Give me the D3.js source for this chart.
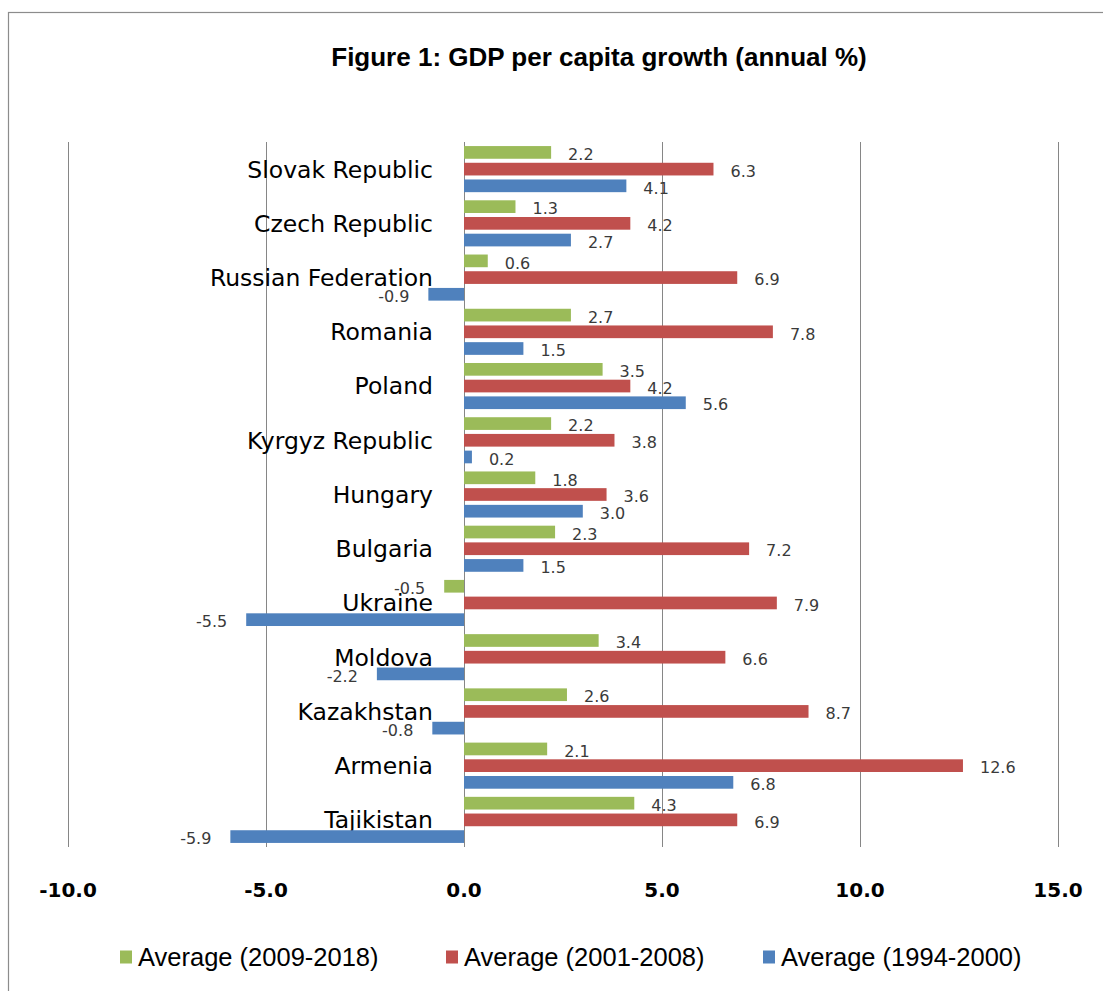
<!DOCTYPE html>
<html>
<head>
<meta charset="utf-8">
<script src="https://cdn.jsdelivr.net/npm/d3@7"></script>
<style>
  html, body { margin: 0; padding: 0; background: #fff; }
  svg { display: block; }
</style>
</head>
<body>
<svg id="chart" width="1103" height="991"></svg>
<script>
// Countries, listed top to bottom
const countries = [
  "Slovak Republic", "Czech Republic", "Russian Federation", "Romania", "Poland",
  "Kyrgyz Republic", "Hungary", "Bulgaria", "Ukraine", "Moldova",
  "Kazakhstan", "Armenia", "Tajikistan"
];

// Series names (legend order)
const seriesNames = ["Average (2009-2018)", "Average (2001-2008)", "Average (1994-2000)"];

// GDP per capita growth, annual %
const avg2009_2018 = [2.2, 1.3, 0.6, 2.7, 3.5, 2.2, 1.8, 2.3, -0.5, 3.4, 2.6, 2.1, 4.3];
const avg2001_2008 = [6.3, 4.2, 6.9, 7.8, 4.2, 3.8, 3.6, 7.2, 7.9, 6.6, 8.7, 12.6, 6.9];
const avg1994_2000 = [4.1, 2.7, -0.9, 1.5, 5.6, 0.2, 3.0, 1.5, -5.5, -2.2, -0.8, 6.8, -5.9];

// Value axis ticks
const xTicks = [-10, -5, 0, 5, 10, 15];

const seriesColors = ["#9BBB59", "#C0504D", "#4F81BD"];
const seriesValues = [avg2009_2018, avg2001_2008, avg1994_2000];

// one-decimal format with a plain hyphen as minus sign
const fmt = d3.formatLocale({
  decimal: ".", thousands: ",", grouping: [3], currency: ["", ""], minus: "-"
}).format(".1f");

const svg = d3.select("#chart");

// chart frame
svg.append("rect")
  .attr("x", 8.5).attr("y", 12.5)
  .attr("width", 1200).attr("height", 1100)
  .attr("fill", "#fff")
  .attr("stroke", "#8c8c8c").attr("stroke-width", 1.2);

// title
svg.append("text")
  .attr("x", 599).attr("y", 66)
  .attr("text-anchor", "middle")
  .attr("font-family", "'Liberation Sans Narrow', 'Liberation Sans', sans-serif")
  .attr("font-weight", "bold")
  .attr("font-size", 26)
  .attr("fill", "#000")
  .text("Figure 1: GDP per capita growth (annual %)");

const plotTop = 142, plotBottom = 847;

const x = d3.scaleLinear().domain([-10, 15]).range([68, 1058]);
const y = d3.scaleBand().domain(countries).range([plotTop, plotBottom]).paddingInner(0.15).paddingOuter(0.075);
const ySub = d3.scaleBand().domain(d3.range(3)).range([0, y.bandwidth()]).paddingInner(0.24);

// vertical gridlines
svg.append("g").selectAll("line")
  .data(xTicks)
  .join("line")
  .attr("x1", d => Math.round(x(d)) + 0.5).attr("x2", d => Math.round(x(d)) + 0.5)
  .attr("y1", plotTop).attr("y2", plotBottom)
  .attr("stroke", "#868686").attr("stroke-width", 1);

// tick labels
svg.append("g").selectAll("text")
  .data(xTicks)
  .join("text")
  .attr("x", d => x(d))
  .attr("y", 897)
  .attr("text-anchor", "middle")
  .attr("font-family", "'DejaVu Sans', sans-serif")
  .attr("font-weight", "bold")
  .attr("font-size", 20)
  .attr("fill", "#000")
  .text(d => fmt(d));

// category labels
svg.append("g").selectAll("text")
  .data(countries)
  .join("text")
  .attr("x", 433)
  .attr("y", d => y(d) + ySub(1) + ySub.bandwidth() / 2)
  .attr("dy", "0.36em")
  .attr("text-anchor", "end")
  .attr("font-family", "'DejaVu Sans', sans-serif")
  .attr("font-size", 23.5)
  .attr("fill", "#000")
  .text(d => d);

// bars and value labels
const rows = [];
countries.forEach((c, i) => {
  seriesValues.forEach((vals, s) => rows.push({ c, s, v: vals[i] }));
});

svg.append("g").selectAll("rect")
  .data(rows)
  .join("rect")
  .attr("x", d => x(Math.min(0, d.v)))
  .attr("y", d => y(d.c) + ySub(d.s))
  .attr("width", d => Math.abs(x(d.v) - x(0)))
  .attr("height", ySub.bandwidth())
  .attr("fill", d => seriesColors[d.s]);

svg.append("g").selectAll("text")
  .data(rows)
  .join("text")
  .attr("x", d => d.v >= 0 ? x(d.v) + 17 : x(d.v) - 19)
  .attr("y", d => y(d.c) + ySub(d.s) + ySub.bandwidth() / 2 + 2)
  .attr("dy", "0.36em")
  .attr("text-anchor", d => d.v >= 0 ? "start" : "end")
  .attr("font-family", "'DejaVu Sans', sans-serif")
  .attr("font-size", 16)
  .attr("fill", "#3a3a3a")
  .text(d => fmt(d.v));

// legend
const legendX = [120, 446, 763];
const lg = svg.append("g").selectAll("g")
  .data(seriesNames)
  .join("g")
  .attr("transform", (d, i) => `translate(${legendX[i]},957)`);
lg.append("rect")
  .attr("x", 0).attr("y", -6.5)
  .attr("width", 12).attr("height", 13)
  .attr("fill", (d, i) => seriesColors[i]);
lg.append("text")
  .attr("x", 18).attr("y", 0)
  .attr("dy", "0.36em")
  .attr("font-family", "'Liberation Sans Narrow', 'Liberation Sans', sans-serif")
  .attr("font-size", 25.5)
  .attr("fill", "#000")
  .text(d => d);
</script>
</body>
</html>
